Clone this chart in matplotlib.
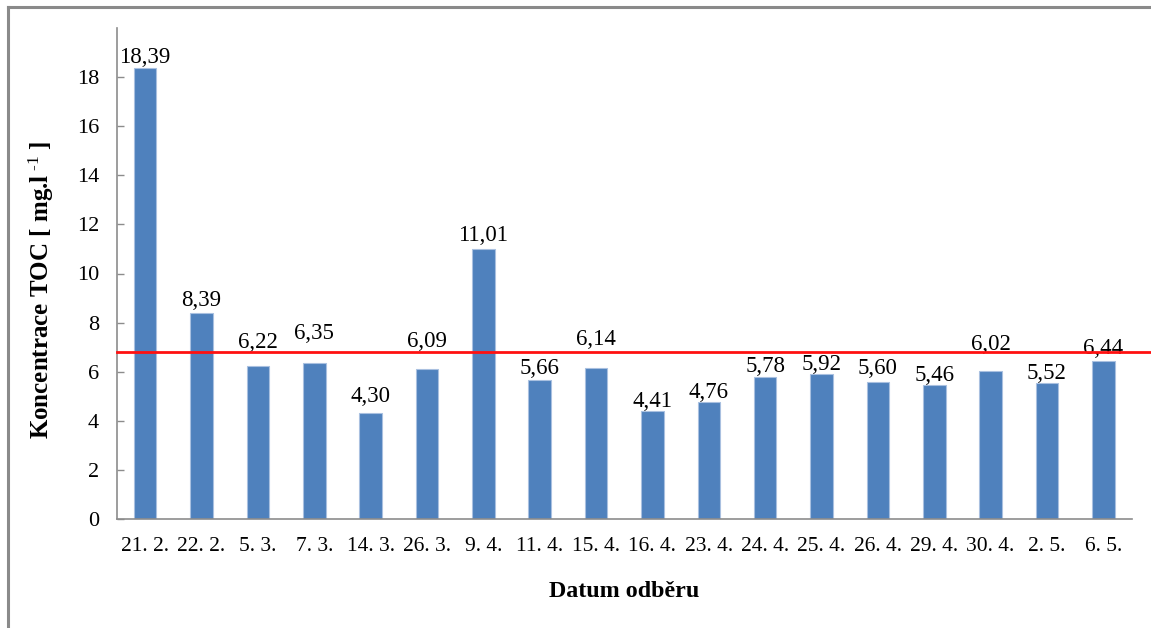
import matplotlib
matplotlib.use("Agg")
import matplotlib.pyplot as plt
from matplotlib.lines import Line2D
from matplotlib.transforms import blended_transform_factory
import numpy as np

plt.rcParams["font.family"] = ["Liberation Serif", "DejaVu Serif"]
plt.rcParams["mathtext.fontset"] = "custom"
plt.rcParams["mathtext.rm"] = "Liberation Serif"
plt.rcParams["mathtext.default"] = "regular"

# sampling dates and TOC concentrations [mg/l]
dates = ["21. 2.", "22. 2.", "5. 3.", "7. 3.", "14. 3.", "26. 3.", "9. 4.", "11. 4.",
         "15. 4.", "16. 4.", "23. 4.", "24. 4.", "25. 4.", "26. 4.", "29. 4.", "30. 4.",
         "2. 5.", "6. 5."]
toc = [18.39, 8.39, 6.22, 6.35, 4.30, 6.09, 11.01, 5.66, 6.14, 4.41, 4.76, 5.78,
       5.92, 5.60, 5.46, 6.02, 5.52, 6.44]

# how far (pt) each value label sits above its bar; some lifted clear of the mean line
label_lift = [7.5, 9, 17, 21, 12.5, 20, 9.5, 8.5, 20.5, 7, 7, 7.5, 6.5, 9.5, 7, 19, 7.5, 9]

BAR = "#4F81BD"
GRID = "#8C8C8C"

fig = plt.figure(figsize=(11.51, 6.28), dpi=100)
ax = fig.add_axes([117 / 1151, 1 - 519 / 628, (1131.5 - 117) / 1151, (519 - 28) / 628])

x = np.arange(len(toc))
ax.bar(x, toc, width=0.4, color=BAR, edgecolor="#A9C0E0", linewidth=0.8, zorder=2)

for xi, v, lift in zip(x, toc, label_lift):
    ax.annotate(f"{v:.2f}".replace(".", ","), (xi, v), xytext=(0, lift),
                textcoords="offset points", ha="center", va="center", fontsize=16.5)

# mean concentration, running out past the plot edge
mean = float(np.mean(toc))
tr = blended_transform_factory(ax.transAxes, ax.transData)
ax.plot([0, 1.05], [mean, mean], color="#FF1010", lw=2, transform=tr, clip_on=False, zorder=3)

ax.set_xlim(-0.5, len(toc) - 0.5)
ax.set_ylim(0, 20)
ax.set_yticks(np.arange(0, 19, 2))
ax.set_xticks(x)
ax.set_xticklabels(dates)
ax.tick_params(axis="y", direction="in", length=5, width=1, color=GRID, pad=13, labelsize=16)
ax.tick_params(axis="x", length=0, pad=13, labelsize=15.5)
for side in ("top", "right"):
    ax.spines[side].set_visible(False)
for side in ("left", "bottom"):
    ax.spines[side].set_color(GRID)
    ax.spines[side].set_linewidth(1.2)

ax.set_ylabel(r"Koncentrace TOC [ mg.l$^{\text{ -1}}$ ]", fontsize=18, fontweight="bold")
ax.yaxis.set_label_coords(-0.06, 0.466)
ax.set_xlabel("Datum odběru", fontsize=17.3, fontweight="bold", labelpad=18)

# outer chart frame
fig.add_artist(Line2D([8 / 1151, 8 / 1151], [-0.1, 1 - 7 / 628], color="#8A8A8A", lw=2.2,
                      transform=fig.transFigure))
fig.add_artist(Line2D([8 / 1151, 1.1], [1 - 7 / 628, 1 - 7 / 628], color="#8A8A8A", lw=2.2,
                      transform=fig.transFigure))

fig.savefig("out.png", dpi=100)
